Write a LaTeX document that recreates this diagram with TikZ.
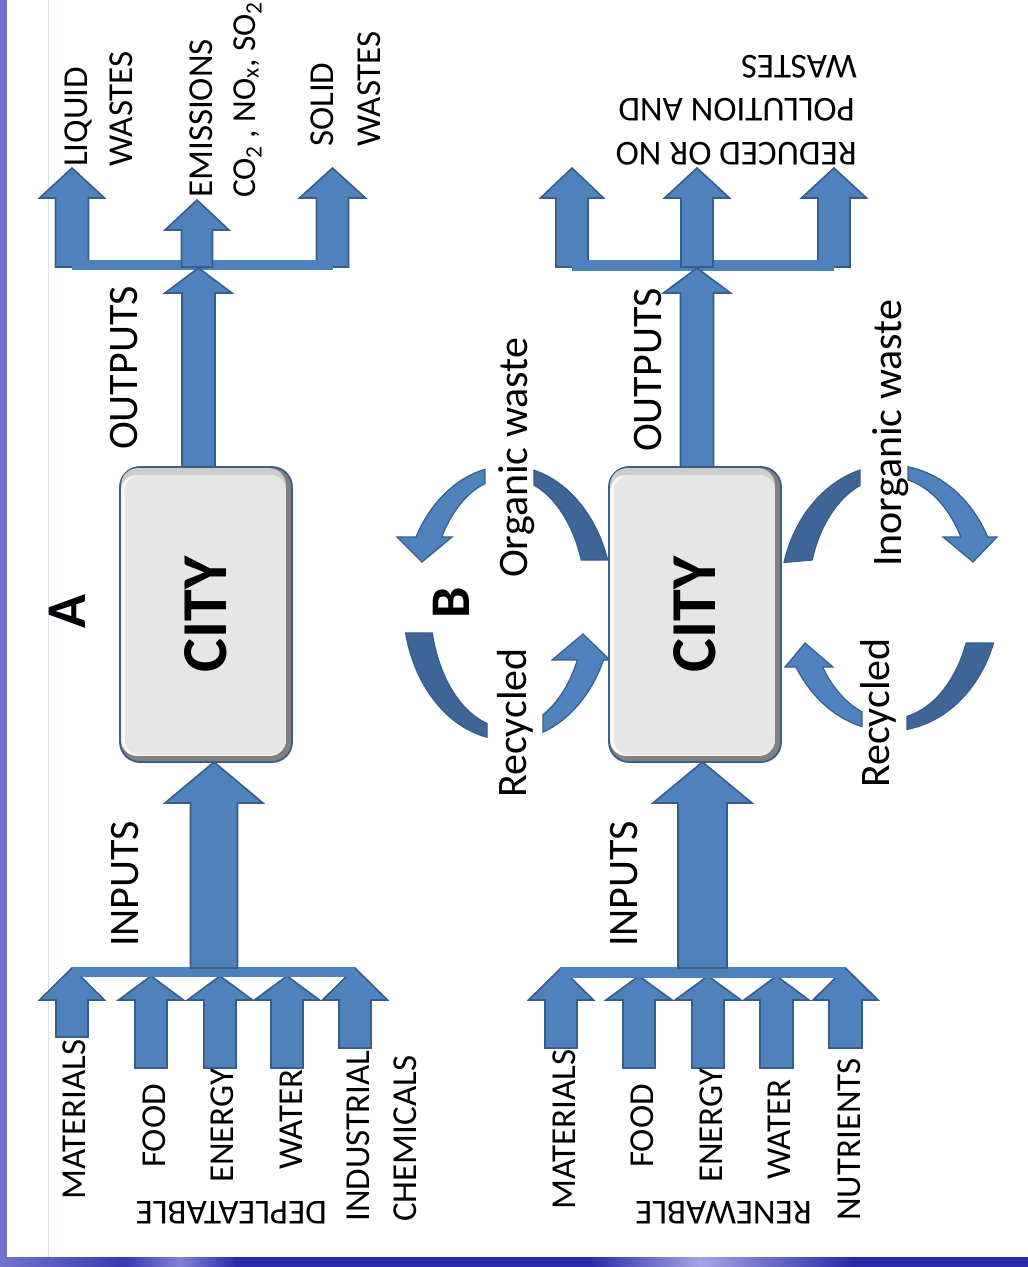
\documentclass[tikz,border=0pt]{standalone}
\usepackage{fontspec}
\setmainfont{Carlito}
\usetikzlibrary{calc}

\definecolor{arrowfill}{RGB}{79,129,189}
\definecolor{arrowline}{RGB}{56,93,138}
\definecolor{arcdark}{RGB}{62,100,152}
\definecolor{boxline}{RGB}{58,95,139}
\definecolor{boxbody}{RGB}{230,230,230}
\definecolor{boxtop}{RGB}{205,205,205}
\definecolor{boxlight}{RGB}{248,248,248}
\definecolor{stripdark}{RGB}{42,42,168}
\definecolor{stripmid}{RGB}{130,130,215}
\definecolor{striplight}{RGB}{165,165,228}
\definecolor{stripleft}{RGB}{115,115,205}
\definecolor{guideline}{RGB}{222,222,245}

\tikzset{
  blockarrow/.style={fill=arrowfill, draw=arrowline, line width=1.6pt, line join=miter},
  darkarc/.style={fill=arcdark, draw=arrowline, line width=1.2pt},
  lightarc/.style={fill=arrowfill, draw=arrowline, line width=1.2pt, line join=miter},
  joinbar/.style={fill=arrowfill},
  lbl/.style={rotate=90, anchor=base west, inner sep=0pt, font=\fontsize{35}{35}\selectfont},
  biglbl/.style={lbl, font=\fontsize{42}{42}\selectfont},
  flipped/.style={rotate=180, anchor=base west, inner sep=0pt, font=\fontsize{35}{35}\selectfont},
  citybox/.style={draw=boxline, line width=1.8pt, fill=black!50, rounded corners=20pt,
    minimum width=172pt, minimum height=295pt, inner sep=0pt},
  citytext/.style={rotate=90, inner sep=0pt, font=\fontsize{64}{64}\selectfont\bfseries},
  panel/.style={rotate=90, inner sep=0pt, font=\fontsize{56}{56}\selectfont\bfseries},
}

% upward block arrow: [style]{centre x}{tip y}{head base y}{tail y}{half shaft}{half head}
\newcommand{\blockup}[7][]{%
  \draw[blockarrow,#1] ({#2-#6},#5) -- ({#2-#6},#4) -- ({#2-#7},#4) -- (#2,#3)
    -- ({#2+#7},#4) -- ({#2+#6},#4) -- ({#2+#6},#5) -- cycle;}

% piece of an elliptic ring: {style}{outer from}{outer to}{extra path}{inner from}{inner to}
\newcommand{\ringpiece}[6]{%
  \path[#1] plot[domain=#2:#3, samples=40] ({\rcx+\rRx*cos(\x)},{\rcy+\rRy*sin(\x)}) #4
    -- plot[domain=#5:#6, samples=40] ({\rcx+\rrx*cos(\x)},{\rcy+\rry*sin(\x)}) -- cycle;}

% inner bevel of a city box
\newcommand{\citybevel}[1]{%
  \fill[boxtop, rounded corners=17pt] ([shift={(2,2)}]#1.north west) rectangle ([shift={(-7,-7)}]#1.south east);
  \fill[boxlight, rounded corners=16pt] ([shift={(2,9)}]#1.north west) rectangle ([shift={(-7,-7)}]#1.south east);
  \fill[boxbody, rounded corners=15pt] ([shift={(6,9)}]#1.north west) rectangle ([shift={(-7,-8)}]#1.south east);}

\begin{document}
\begin{tikzpicture}[x=1pt, y=-1pt]
\useasboundingbox (0,0) rectangle (1028,1267);

% page background and frame strips
\fill[white] (0,0) rectangle (1028,1267);
\fill[stripleft] (0,0) rectangle (7,1267);
\draw[guideline, line width=1pt] (48,0) -- (48,1257);
\shade[left color=stripleft, right color=stripdark!80!stripleft] (0,1257) rectangle (125,1267);
\shade[left color=stripdark!80!stripleft, right color=stripmid] (125,1257) rectangle (180,1267);
\shade[left color=stripmid, right color=stripdark] (180,1257) rectangle (236,1267);
\fill[stripdark] (236,1257) rectangle (590,1267);
\shade[left color=stripdark, right color=striplight] (590,1257) rectangle (700,1267);
\shade[left color=striplight, right color=stripdark] (700,1257) rectangle (852,1267);
\fill[stripdark] (852,1257) rectangle (1028,1267);

% ---------- recycling loops of panel B ----------
\def\rcx{508}\def\rcy{603}\def\rRx{105}\def\rRy{137}\def\rrx{78}\def\rry{125}
\ringpiece{darkarc}{-18.3}{-75.7}{}{-70.5}{-20.1}
\ringpiece{lightarc}{-102.7}{-151.2}{-- (397,537) -- (422,562) -- (452,537)}{-148.1}{-107.1}
\ringpiece{darkarc}{167.4}{101.5}{}{105.6}{166.1}
\ringpiece{lightarc}{70.5}{24.6}{-- (610,660) -- (583,634) -- (552,660)}{27.1}{63.3}

\def\rcx{890}\def\rcy{598}\def\rRx{110}\def\rRy{133}\def\rrx{82}\def\rry{121}
\ringpiece{darkarc}{195.5}{254.2}{}{248.5}{198.3}
\ringpiece{lightarc}{279.4}{332.7}{-- (997,537) -- (973,562) -- (943,537)}{329.7}{282.7}
\ringpiece{darkarc}{19.8}{81.1}{}{78.0}{21.8}
\ringpiece{lightarc}{104.7}{148.7}{-- (785,667) -- (805,643) -- (833,667)}{145.2}{110.0}

% ---------- city boxes ----------
\node[citybox] (cityA) at (206,614.5) {};
\citybevel{cityA}
\node[citytext] (cityAtext) at (cityA.center) {CITY};

\node[citybox] (cityB) at (695,614.5) {};
\citybevel{cityB}
\node[citytext] (cityBtext) at (cityB.center) {CITY};

% ---------- panel A arrows ----------
% inputs
\blockup{72}{968}{1000}{1037}{16}{32.5}
\blockup{151}{976}{1000}{1068}{16}{32.5}
\blockup{220}{976}{1000}{1068}{16}{32.5}
\blockup{287}{976}{1000}{1068}{16}{32.5}
\blockup{355}{968}{1000}{1048}{16}{32.5}
\fill[joinbar] (72,967) rectangle (355,977);
\blockup{214}{762}{803}{968}{23.5}{49}
% outputs
\blockup{72}{168}{198}{267}{16.5}{32.5}
\blockup{332.5}{168}{198}{267}{16}{33}
\fill[joinbar] (72,260) rectangle (332.5,270);
\blockup{197}{200}{230}{267}{15.5}{32}
\blockup{198.5}{268}{293}{467}{16.5}{33.5}

% ---------- panel B arrows ----------
% inputs
\blockup{561}{968}{1000}{1048}{16}{32.5}
\blockup{639}{976}{1000}{1068}{16}{33}
\blockup{708}{976}{1000}{1068}{16}{33}
\blockup{776.5}{976}{1000}{1068}{16.5}{32.5}
\blockup{845.5}{968}{1000}{1048}{16.5}{32.5}
\fill[joinbar] (560,967) rectangle (845,978);
\blockup{702.5}{762}{803}{968}{24.5}{49.5}
% outputs
\blockup{572}{168}{198}{267}{16}{31.5}
\blockup{834}{168}{198}{267}{16}{32.5}
\fill[joinbar] (572,260) rectangle (834,271);
\blockup{697}{168}{198}{267}{16}{32.5}
\blockup{697}{268}{293}{467}{16.5}{33.5}

% ---------- panel letters ----------
\node[panel] (panelA) at (67,612) {A};
\node[panel] (panelB) at (451,603) {B};

% ---------- panel A labels ----------
\node[lbl] (liquidA) at (87,167) {LIQUID};
\node[lbl] (liquidAw) at (132,167) {WASTES};
\node[lbl] (emisA) at (212,198) {EMISSIONS};
\node[lbl, font=\fontsize{33.5}{33.5}\selectfont] (gasesA) at (255,198) {CO\textsubscript{2} , NO\textsubscript{x}, SO\textsubscript{2}};
\node[lbl] (solidA) at (333,147) {SOLID};
\node[lbl] (solidAw) at (380,147) {WASTES};
\node[biglbl] (outA) at (137,450) {OUTPUTS};
\node[biglbl] (inA) at (138,947) {INPUTS};
\node[lbl] (matA) at (85,1200) {MATERIALS};
\node[lbl] (foodA) at (165,1168) {FOOD};
\node[lbl] (enA) at (233,1183) {ENERGY};
\node[lbl] (waterA) at (302,1170) {WATER};
\node[lbl] (indA) at (369,1222) {INDUSTRIAL};
\node[lbl] (chemA) at (416,1222) {CHEMICALS};
\node[flipped] (deplA) at (327,1201) {DEPLEATABLE};

% ---------- panel B labels ----------
\node[flipped] (redB1) at (857,142) {REDUCED OR NO};
\node[flipped] (redB2) at (855,98) {POLLUTION AND};
\node[flipped] (redB3) at (857,55) {WASTES};
\node[biglbl] (outB) at (661,452) {OUTPUTS};
\node[biglbl] (inB) at (637,947) {INPUTS};
\node[biglbl] (orgB) at (527,578) {Organic waste};
\node[biglbl] (recB1) at (526,798) {Recycled};
\node[biglbl] (inorgB) at (901,567) {Inorganic waste};
\node[biglbl] (recB2) at (889,788) {Recycled};
\node[lbl] (matB) at (575,1210) {MATERIALS};
\node[lbl] (foodB) at (653,1168) {FOOD};
\node[lbl] (enB) at (722,1183) {ENERGY};
\node[lbl] (waterB) at (790,1180) {WATER};
\node[lbl] (nutB) at (860,1221) {NUTRIENTS};
\node[flipped] (renB) at (812,1201) {RENEWABLE};
\end{tikzpicture}
\end{document}
